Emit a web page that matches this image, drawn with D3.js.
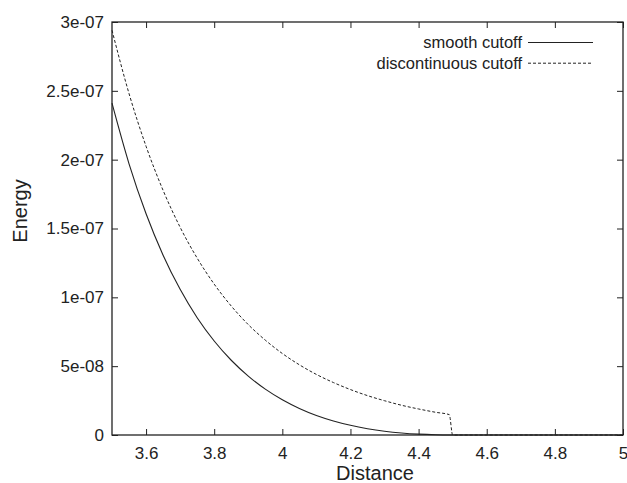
<!DOCTYPE html>
<html>
<head>
<meta charset="utf-8">
<script src="https://cdn.jsdelivr.net/npm/d3@7"></script>
<style>
  body { margin: 0; background: #fff; }
  text { font-family: "Liberation Sans", Arial, Helvetica, sans-serif; fill: #222; }
</style>
</head>
<body>
<div id="chart"></div>
<script>
// distances sampled along the curves
const distance = [3.5, 3.55, 3.6, 3.65, 3.7, 3.75, 3.8, 3.85, 3.9, 3.95, 4.0,
  4.05, 4.1, 4.15, 4.2, 4.25, 4.3, 4.35, 4.4, 4.45, 4.49, 4.5, 4.75, 5.0];

// energy
const smoothCutoff = [2.41e-7, 1.970e-7, 1.607e-7, 1.306e-7, 1.058e-7, 8.52e-8, 6.83e-8,
  5.43e-8, 4.28e-8, 3.33e-8, 2.56e-8, 1.93e-8, 1.42e-8, 1.02e-8, 7.03e-9, 4.59e-9,
  2.76e-9, 1.46e-9, 6.1e-10, 1.4e-10, 0, 0, 0, 0];
const discontinuousCutoff = [2.94e-7, 2.48e-7, 2.097e-7, 1.777e-7, 1.509e-7, 1.285e-7,
  1.096e-7, 9.37e-8, 8.02e-8, 6.89e-8, 5.92e-8, 5.10e-8, 4.40e-8, 3.81e-8, 3.30e-8,
  2.86e-8, 2.49e-8, 2.16e-8, 1.89e-8, 1.65e-8, 1.48e-8, 0, 0, 0];

const xTicks = [3.6, 3.8, 4.0, 4.2, 4.4, 4.6, 4.8, 5.0];
const xTickLabels = ["3.6", "3.8", "4", "4.2", "4.4", "4.6", "4.8", "5"];
const yTicks = [0, 5e-8, 1e-7, 1.5e-7, 2e-7, 2.5e-7, 3e-7];
const yTickLabels = ["0", "5e-08", "1e-07", "1.5e-07", "2e-07", "2.5e-07", "3e-07"];

const seriesNames = ["smooth cutoff", "discontinuous cutoff"];

const W = 627, H = 483;
const margin = { top: 22, right: 4, bottom: 48, left: 112 };
const width = W - margin.left - margin.right;
const height = H - margin.top - margin.bottom;
const ink = "#222";

const svg = d3.select("#chart").append("svg")
  .attr("width", W)
  .attr("height", H);

const g = svg.append("g")
  .attr("transform", `translate(${margin.left},${margin.top})`);

const x = d3.scaleLinear().domain([3.5, 5]).range([0, width]);
const y = d3.scaleLinear().domain([0, 3e-7]).range([height, 0]);

const tickLen = 6;

// bottom axis, ticks pointing inward
const xAxis = g.append("g")
  .attr("transform", `translate(0,${height})`)
  .call(d3.axisBottom(x).tickValues(xTicks)
    .tickFormat((d, i) => xTickLabels[i])
    .tickSizeInner(-tickLen).tickSizeOuter(0).tickPadding(12));
xAxis.select(".domain").remove();
xAxis.selectAll("line").attr("stroke", ink);
xAxis.selectAll("text").attr("font-size", 17).attr("fill", ink)
  .attr("font-family", "Liberation Sans, Arial, sans-serif");

// top mirrored ticks
g.append("g")
  .call(d3.axisTop(x).tickValues(xTicks).tickFormat("")
    .tickSizeInner(-tickLen).tickSizeOuter(0))
  .call(a => a.select(".domain").remove())
  .selectAll("line").attr("stroke", ink);

// left axis
const yAxis = g.append("g")
  .call(d3.axisLeft(y).tickValues(yTicks)
    .tickFormat((d, i) => yTickLabels[i])
    .tickSizeInner(-tickLen).tickSizeOuter(0).tickPadding(8));
yAxis.select(".domain").remove();
yAxis.selectAll("line").attr("stroke", ink);
yAxis.selectAll("text").attr("font-size", 17).attr("fill", ink)
  .attr("font-family", "Liberation Sans, Arial, sans-serif");

// right mirrored ticks
g.append("g")
  .attr("transform", `translate(${width},0)`)
  .call(d3.axisRight(y).tickValues(yTicks).tickFormat("")
    .tickSizeInner(-tickLen).tickSizeOuter(0))
  .call(a => a.select(".domain").remove())
  .selectAll("line").attr("stroke", ink);

// frame
g.append("rect")
  .attr("width", width)
  .attr("height", height)
  .attr("fill", "none")
  .attr("stroke", ink)
  .attr("stroke-width", 1.3);

const line = d3.line()
  .x((d, i) => x(distance[i]))
  .y(d => y(d))
  .curve(d3.curveMonotoneX);

g.append("path")
  .datum(smoothCutoff)
  .attr("d", line)
  .attr("fill", "none")
  .attr("stroke", ink)
  .attr("stroke-width", 1.1);

g.append("path")
  .datum(discontinuousCutoff)
  .attr("d", line)
  .attr("fill", "none")
  .attr("stroke", ink)
  .attr("stroke-width", 1)
  .attr("stroke-dasharray", "3,2");

// legend
const legend = svg.append("g");
const dashes = [null, "3,2"];
seriesNames.forEach((name, i) => {
  const ly = 42.5 + i * 20.7;
  legend.append("text")
    .attr("x", 522)
    .attr("y", ly + 5.5)
    .attr("text-anchor", "end")
    .attr("font-size", 16.5)
    .text(name);
  legend.append("line")
    .attr("x1", 528).attr("x2", 593)
    .attr("y1", ly).attr("y2", ly)
    .attr("stroke", ink)
    .attr("stroke-width", 1)
    .attr("stroke-dasharray", dashes[i]);
});

// axis titles
svg.append("text")
  .attr("x", 375)
  .attr("y", 480)
  .attr("text-anchor", "middle")
  .attr("font-size", 20)
  .text("Distance");

svg.append("text")
  .attr("transform", `translate(27,211)rotate(-90)`)
  .attr("text-anchor", "middle")
  .attr("font-size", 20)
  .text("Energy");
</script>
</body>
</html>
